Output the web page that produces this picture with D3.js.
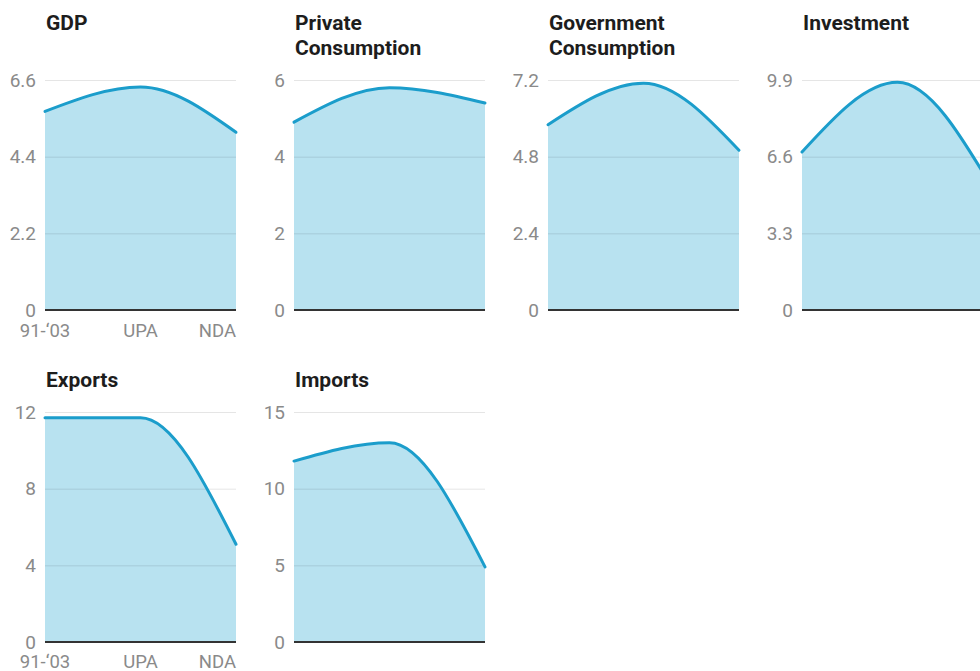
<!DOCTYPE html>
<html>
<head>
<meta charset="utf-8">
<script src="https://cdn.jsdelivr.net/npm/d3@7"></script>
<style>
  html, body { margin: 0; padding: 0; background: #fff; }
  svg { display: block; font-family: Roboto, "Noto Sans", sans-serif; }
</style>
</head>
<body>
<svg id="chart" width="980" height="671"></svg>
<script>
// Periods on the x axis
const periods = ["91-03", "UPA", "NDA"];
const periodLabels = ["91-\u201803", "UPA", "NDA"];

// Panel titles (one or two lines each)
const titles = [
  ["GDP"],
  ["Private", "Consumption"],
  ["Government", "Consumption"],
  ["Investment"],
  ["Exports"],
  ["Imports"]
];

// Average growth per period, one array per panel
const gdp        = [5.7, 6.4, 5.1];
const privCons   = [4.9, 5.8, 5.4];
const govCons    = [5.8, 7.1, 5.0];
const investment = [6.8, 9.8, 5.2];
const exportsG   = [11.7, 11.7, 5.1];
const importsG   = [11.8, 13.0, 4.9];

// Y-axis tick values for each panel
const ticksGdp  = [0, 2.2, 4.4, 6.6];
const ticksPriv = [0, 2, 4, 6];
const ticksGov  = [0, 2.4, 4.8, 7.2];
const ticksInv  = [0, 3.3, 6.6, 9.9];
const ticksExp  = [0, 4, 8, 12];
const ticksImp  = [0, 5, 10, 15];

const series = [gdp, privCons, govCons, investment, exportsG, importsG];
const tickSets = [ticksGdp, ticksPriv, ticksGov, ticksInv, ticksExp, ticksImp];

// Layout
const colLeft = [45, 294, 548, 802];
const plotW = 191;
const plotH = 230;
const rowTop = [80, 412];       // y of the top gridline in each row
const titleTop = [30, 387];     // baseline of first title line per row
const lineH = 25;

const svg = d3.select("#chart");

series.forEach((vals, i) => {
  const col = i % 4, row = Math.floor(i / 4);
  const ticks = tickSets[i];
  const g = svg.append("g")
    .attr("transform", `translate(${colLeft[col]},${rowTop[row]})`);

  const x = d3.scalePoint().domain(periods).range([0, plotW]);
  const y = d3.scaleLinear().domain([0, d3.max(ticks)]).range([plotH, 0]);

  const data = periods.map((p, k) => ({ p, v: vals[k] }));

  // title
  const t = svg.append("text")
    .attr("x", colLeft[col] + 1)
    .attr("y", titleTop[row])
    .attr("font-weight", 700)
    .attr("font-size", 21)
    .attr("fill", "#1d1d1d");
  titles[i].forEach((line, k) => {
    t.append("tspan").attr("x", colLeft[col] + 1).attr("dy", k === 0 ? 0 : lineH).text(line);
  });

  // area
  const area = d3.area()
    .x(d => x(d.p)).y0(y(0)).y1(d => y(d.v))
    .curve(d3.curveMonotoneX);
  g.append("path").datum(data)
    .attr("d", area)
    .attr("fill", "#b8e2f0");

  // gridlines and tick labels
  const yAxis = d3.axisLeft(y).tickValues(ticks).tickSize(-plotW).tickPadding(9)
    .tickFormat(d => d3.format("~g")(d));
  const ax = g.append("g").call(yAxis);
  ax.select(".domain").remove();
  ax.selectAll(".tick line")
    .attr("stroke", d => d === 0 ? "none" : "rgba(0,0,0,0.1)")
    .attr("stroke-width", 1);
  ax.selectAll(".tick text")
    .attr("fill", "#8a8a8a")
    .attr("font-size", 19)
    .attr("font-family", "Roboto, sans-serif");

  // line
  const line = d3.line()
    .x(d => x(d.p)).y(d => y(d.v))
    .curve(d3.curveMonotoneX);
  g.append("path").datum(data)
    .attr("d", line)
    .attr("fill", "none")
    .attr("stroke", "#1b9dcb")
    .attr("stroke-width", 3)
    .attr("stroke-linecap", "round");

  // baseline
  g.append("line")
    .attr("x1", 0).attr("x2", plotW)
    .attr("y1", y(0)).attr("y2", y(0))
    .attr("stroke", "#333").attr("stroke-width", 2);

  // x labels only on the first column
  if (col === 0) {
    const xa = g.append("g").attr("transform", `translate(0,${plotH})`);
    periods.forEach((p, k) => {
      xa.append("text")
        .attr("x", x(p))
        .attr("y", row === 0 ? 27 : 26)
        .attr("text-anchor", k === periods.length - 1 ? "end" : "middle")
        .attr("fill", "#8a8a8a")
        .attr("font-size", 18.5)
        .text(periodLabels[k]);
    });
  }
});
</script>
</body>
</html>
